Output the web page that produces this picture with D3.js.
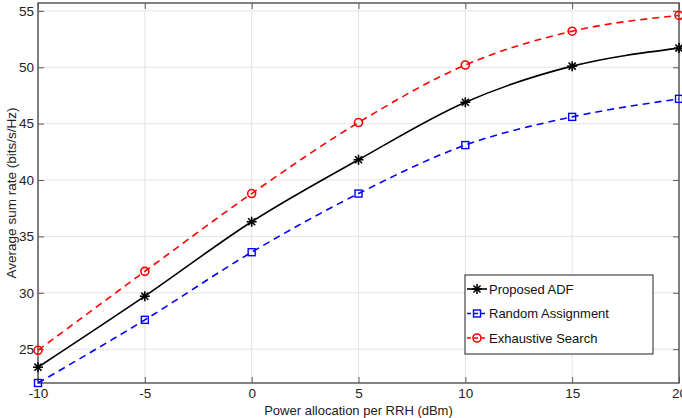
<!DOCTYPE html>
<html>
<head>
<meta charset="utf-8">
<script src="https://cdn.jsdelivr.net/npm/d3@7"></script>
<style>
  body { margin: 0; background: #fff; }
  text { font-family: "Liberation Sans", Arial, sans-serif; }
</style>
</head>
<body>
<div id="chart"></div>
<script>
// data
var power = [-10, -5, 0, 5, 10, 15, 20];
var adf = [23.4, 29.7, 36.3, 41.8, 46.9, 50.1, 51.7];
var randomAssign = [22.0, 27.6, 33.6, 38.8, 43.1, 45.6, 47.2];
var exhaustive = [24.9, 31.9, 38.8, 45.1, 50.2, 53.2, 54.6];
var xTicks = [-10, -5, 0, 5, 10, 15, 20];
var yTicks = [25, 30, 35, 40, 45, 50, 55];
var seriesNames = ["Proposed ADF", "Random Assignment", "Exhaustive Search"];

var width = 682, height = 418;
var plotL = 38, plotR = 679, plotT = 3, plotB = 383;

var svg = d3.select("#chart").append("svg")
  .attr("width", width)
  .attr("height", height);

var x = d3.scaleLinear().domain([-10, 20]).range([plotL, plotR]);
var y = d3.scaleLinear().domain([22, 55.7]).range([plotB, plotT]);

// grid
svg.append("g").selectAll("line")
  .data(xTicks).enter().append("line")
  .attr("x1", d => x(d)).attr("x2", d => x(d))
  .attr("y1", plotT).attr("y2", plotB)
  .attr("stroke", "#e3e3e3").attr("stroke-width", 1);
svg.append("g").selectAll("line")
  .data(yTicks).enter().append("line")
  .attr("x1", plotL).attr("x2", plotR)
  .attr("y1", d => y(d)).attr("y2", d => y(d))
  .attr("stroke", "#e3e3e3").attr("stroke-width", 1);

// axes with inward ticks
var axColor = "#5a5a5a";
var fmt = d => String(d);
function styleAxis(g) {
  g.select(".domain").remove();
  g.selectAll(".tick line").attr("stroke", axColor);
  g.selectAll(".tick text").attr("fill", "#222").style("font-size", "13.5px");
}
svg.append("g").attr("transform", "translate(0," + plotB + ")")
  .call(d3.axisBottom(x).tickValues(xTicks).tickSizeInner(-6).tickPadding(5).tickFormat(fmt))
  .call(styleAxis);
svg.append("g").attr("transform", "translate(0," + plotT + ")")
  .call(d3.axisTop(x).tickValues(xTicks).tickSizeInner(-6).tickFormat(""))
  .call(styleAxis);
svg.append("g").attr("transform", "translate(" + plotL + ",0)")
  .call(d3.axisLeft(y).tickValues(yTicks).tickSizeInner(-6).tickPadding(4).tickFormat(fmt))
  .call(styleAxis);
svg.append("g").attr("transform", "translate(" + plotR + ",0)")
  .call(d3.axisRight(y).tickValues(yTicks).tickSizeInner(-6).tickFormat(""))
  .call(styleAxis);

svg.append("rect")
  .attr("x", plotL).attr("y", plotT)
  .attr("width", plotR - plotL).attr("height", plotB - plotT)
  .attr("fill", "none").attr("stroke", axColor).attr("stroke-width", 1.5);

// series
var series = [
  {name: seriesNames[0], values: adf, color: "#000", dash: null, marker: "star"},
  {name: seriesNames[1], values: randomAssign, color: "#0000ff", dash: "7,5", marker: "square"},
  {name: seriesNames[2], values: exhaustive, color: "#ff0000", dash: "7,5", marker: "circle"}
];

var line = d3.line()
  .x(d => x(d[0]))
  .y(d => y(d[1]))
  .curve(d3.curveMonotoneX);

function drawMarker(g, type, color, cx, cy) {
  if (type == "star") {
    var r = 5;
    for (var a = 0; a < 4; a++) {
      var ang = a * Math.PI / 4;
      g.append("line")
        .attr("x1", cx - r * Math.cos(ang)).attr("y1", cy - r * Math.sin(ang))
        .attr("x2", cx + r * Math.cos(ang)).attr("y2", cy + r * Math.sin(ang))
        .attr("stroke", color).attr("stroke-width", 1.6);
    }
  } else if (type == "square") {
    g.append("rect")
      .attr("x", cx - 3.5).attr("y", cy - 3.5)
      .attr("width", 7).attr("height", 7)
      .attr("fill", "none").attr("stroke", color).attr("stroke-width", 1.4);
  } else {
    g.append("circle")
      .attr("cx", cx).attr("cy", cy).attr("r", 4)
      .attr("fill", "none").attr("stroke", color).attr("stroke-width", 1.6);
  }
}

series.forEach(function(s) {
  var pts = power.map((p, i) => [p, s.values[i]]);
  svg.append("path")
    .datum(pts)
    .attr("d", line)
    .attr("fill", "none")
    .attr("stroke", s.color)
    .attr("stroke-width", 1.6)
    .attr("stroke-dasharray", s.dash);
  var g = svg.append("g");
  pts.forEach(function(p) {
    drawMarker(g, s.marker, s.color, x(p[0]), y(p[1]));
  });
});

// axis labels
svg.append("text")
  .attr("x", (plotL + plotR) / 2).attr("y", 415)
  .attr("text-anchor", "middle")
  .style("font-size", "13px").attr("fill", "#222")
  .text("Power allocation per RRH (dBm)");
svg.append("text")
  .attr("transform", "translate(16," + ((plotT + plotB) / 2) + ") rotate(-90)")
  .attr("text-anchor", "middle")
  .style("font-size", "13.5px").attr("fill", "#222")
  .text("Average sum rate (bits/s/Hz)");

// legend
var lg = svg.append("g");
lg.append("rect")
  .attr("x", 465).attr("y", 275)
  .attr("width", 188).attr("height", 79)
  .attr("fill", "#fff").attr("stroke", "#222").attr("stroke-width", 1);
series.forEach(function(s, i) {
  var ly = 289 + i * 24.5;
  lg.append("line")
    .attr("x1", 467).attr("x2", 487)
    .attr("y1", ly).attr("y2", ly)
    .attr("stroke", s.color).attr("stroke-width", 1.6)
    .attr("stroke-dasharray", s.dash ? "4,3" : null);
  drawMarker(lg, s.marker, s.color, 477, ly);
  lg.append("text")
    .attr("x", 489).attr("y", ly + 4.5)
    .style("font-size", "13px").attr("fill", "#111")
    .text(s.name);
});
</script>
</body>
</html>
